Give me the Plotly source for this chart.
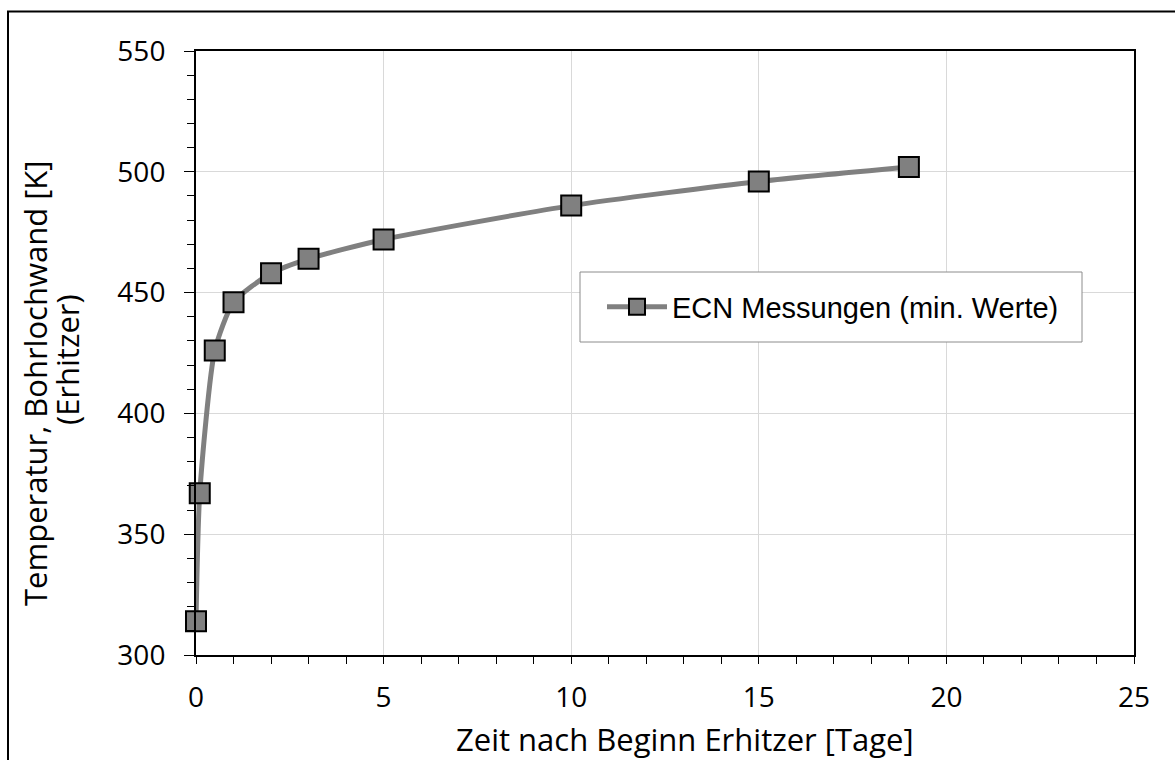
import plotly.graph_objects as go

# Bohrlochwand-Temperatur über der Zeit (ECN Messungen, min. Werte)
zeit_tage = [0, 0.1, 0.5, 1, 2, 3, 5, 10, 15, 19]
temperatur_k = [314, 367, 426, 446, 458, 464, 472, 486, 496, 502]
serie_name = "ECN Messungen (min. Werte)"

x_titel = "Zeit nach Beginn Erhitzer [Tage]"
y_titel_1 = "Temperatur, Bohrlochwand [K]"
y_titel_2 = "(Erhitzer)"

grau = "#808080"
gitter = "#d9d9d9"
tick_font = dict(family="Open Sans", size=28, color="black")
titel_font = dict(family="Open Sans", size=31, color="black")

# Pixelgeometrie des Plotbereichs
L, R, T, B = 196, 1134, 51, 655
PW, PH = R - L, B - T


def px_x(p):
    return (p - L) / PW


def px_y(p):
    return (B - p) / PH


fig = go.Figure()
fig.add_trace(go.Scatter(
    x=zeit_tage, y=temperatur_k, name=serie_name,
    mode="lines+markers", cliponaxis=False,
    line=dict(color=grau, width=5, shape="spline", smoothing=0.6),
    marker=dict(symbol="square", size=20, color=grau,
                line=dict(color="black", width=2)),
))

achse = dict(
    showline=True, linecolor="black", linewidth=2, mirror=True,
    showgrid=True, gridcolor=gitter, gridwidth=1,
    ticks="outside", tickcolor="black", tickwidth=1,
    tickfont=tick_font, zeroline=False,
)

fig.update_xaxes(
    **achse, range=[0, 25], tick0=0, dtick=5, ticklen=7,
    ticklabelstandoff=9,
    minor=dict(dtick=1, ticks="outside", ticklen=7, tickcolor="black",
               showgrid=False),
)
fig.update_yaxes(
    **achse, range=[300, 550], tick0=300, dtick=50, ticklen=10,
    ticklabelstandoff=13,
    minor=dict(dtick=10, ticks="outside", ticklen=7, tickcolor="black",
               showgrid=False),
)

# Achsentitel als Annotationen
fig.add_annotation(text=x_titel, xref="paper", yref="paper",
                   x=px_x(685), y=px_y(739), xanchor="center", yanchor="middle",
                   showarrow=False, font=titel_font)
fig.add_annotation(text=y_titel_1, xref="paper", yref="paper",
                   x=px_x(35), y=px_y(383),
                   xanchor="center", yanchor="middle", textangle=-90,
                   showarrow=False, font=titel_font)
fig.add_annotation(text=y_titel_2, xref="paper", yref="paper",
                   x=px_x(67), y=px_y(360),
                   xanchor="center", yanchor="middle", textangle=-90,
                   showarrow=False, font=titel_font)

# Rahmen um den Diagrammbereich
fig.add_shape(type="rect", xref="paper", yref="paper",
              x0=px_x(8), x1=1.2, y0=-0.3, y1=px_y(11.5),
              line=dict(color="black", width=2), fillcolor="rgba(0,0,0,0)",
              layer="below")

# Legendenkasten
fig.add_shape(type="rect", xref="paper", yref="paper",
              x0=px_x(580), x1=px_x(1082), y0=px_y(342), y1=px_y(272),
              line=dict(color="#8c8c8c", width=1), fillcolor="white",
              layer="above")

fig.update_layout(
    width=1175, height=760,
    margin=dict(l=L, r=1175 - R, t=T, b=760 - B),
    paper_bgcolor="white", plot_bgcolor="white",
    showlegend=True,
    legend=dict(
        x=px_x(602), y=px_y(307),
        xanchor="left", yanchor="middle",
        bgcolor="rgba(0,0,0,0)", borderwidth=0,
        font=dict(family="Liberation Sans", size=29, color="black"),
        itemwidth=60,
    ),
)

fig.write_html("out.html")
